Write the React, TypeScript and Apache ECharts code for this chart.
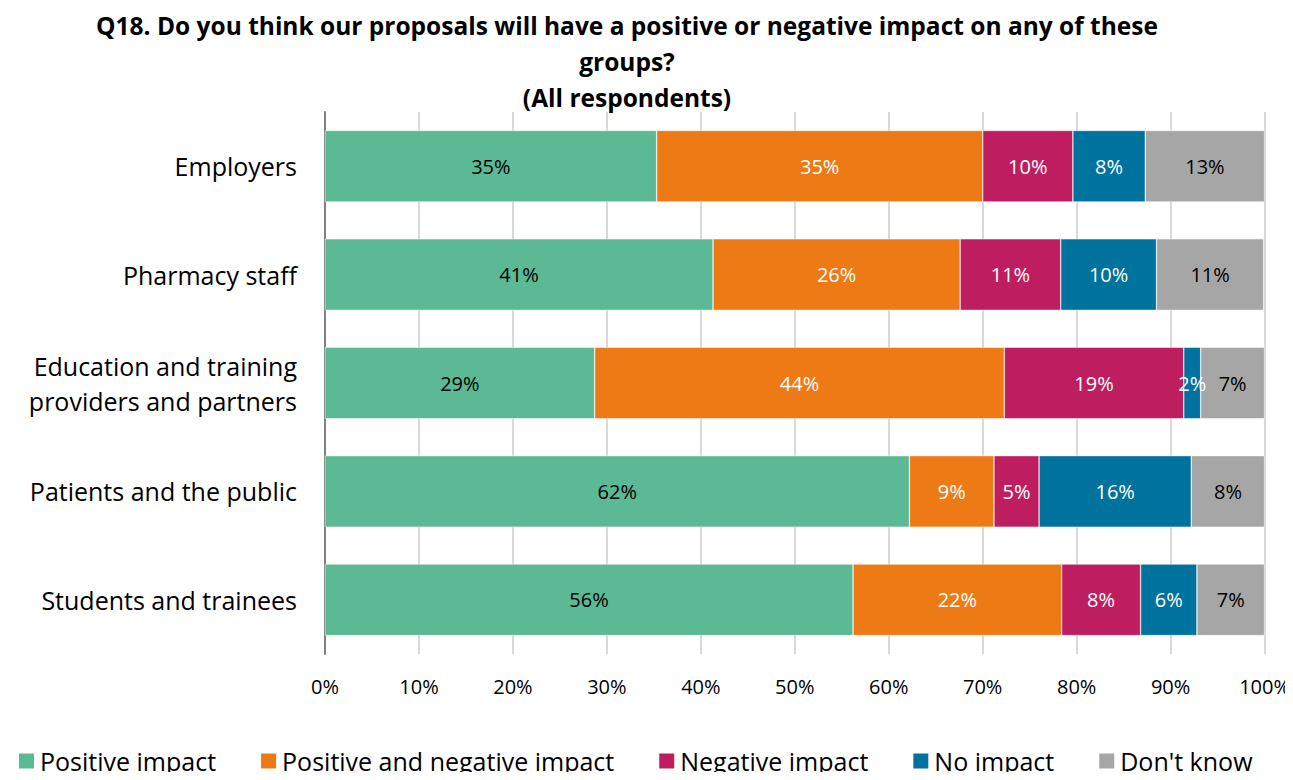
import React, { useEffect, useRef } from "react";
import * as echarts from "echarts";

const categories = [
  "Employers",
  "Pharmacy staff",
  "Education and training\nproviders and partners",
  "Patients and the public",
  "Students and trainees",
];
const seriesNames = [
  "Positive impact",
  "Positive and negative impact",
  "Negative impact",
  "No impact",
  "Don't know",
];
const positiveImpact = [35.3, 41.3, 28.7, 62.2, 56.2];
const positiveAndNegative = [34.7, 26.3, 43.6, 9.0, 22.2];
const negativeImpact = [9.6, 10.7, 19.1, 4.8, 8.4];
const noImpact = [7.7, 10.2, 1.8, 16.2, 6.0];
const dontKnow = [12.7, 11.4, 6.8, 7.8, 7.2];
const xTicks = [0, 10, 20, 30, 40, 50, 60, 70, 80, 90, 100];

const colors = ["#5BB995", "#EE7A16", "#BE1E60", "#00729E", "#A6A6A6"];
const labelColors = ["#000000", "#FFFFFF", "#FFFFFF", "#FFFFFF", "#000000"];

const FONT = "'Open Sans', sans-serif";

export default function App() {
  const ref = useRef<HTMLDivElement>(null);
  useEffect(() => {
    if (!ref.current) return;
    const chart = echarts.init(ref.current, null, { renderer: "svg" });
    const all = [positiveImpact, positiveAndNegative, negativeImpact, noImpact, dontKnow];
    chart.setOption({
      animation: false,
      textStyle: { fontFamily: FONT },
      title: {
        text: "Q18. Do you think our proposals will have a positive or negative impact on any of these\ngroups?\n(All respondents)",
        left: 622,
        top: 2,
        textAlign: "center",
        textStyle: {
          fontFamily: FONT,
          fontWeight: "bold",
          fontSize: 24.5,
          lineHeight: 36,
          color: "#000",
        },
      },
      legend: {
        top: 741,
        left: 12,
        itemGap: 43,
        itemWidth: 17,
        itemHeight: 17,
        icon: "rect",
        data: seriesNames,
        textStyle: { fontFamily: FONT, fontSize: 25, lineHeight: 30, color: "#000" },
      },
      grid: { left: 325, right: 28, top: 112, bottom: 126, containLabel: false },
      xAxis: {
        type: "value",
        min: 0,
        max: 100,
        interval: 10,
        axisLine: { show: false },
        axisTick: { show: false },
        splitLine: { show: true, lineStyle: { color: "#D9D9D9", width: 2 } },
        axisLabel: {
          formatter: (v: number) => (xTicks.includes(v) ? v + "%" : ""),
          fontSize: 20,
          color: "#000",
          margin: 22,
          fontFamily: FONT,
        },
      },
      yAxis: {
        type: "category",
        inverse: true,
        data: categories,
        axisLine: { show: true, lineStyle: { color: "#808080", width: 2 } },
        axisTick: { show: false },
        axisLabel: {
          fontSize: 25,
          color: "#000",
          margin: 28,
          lineHeight: 35,
          align: "right",
          fontFamily: FONT,
        },
      },
      series: seriesNames.map((name, i) => ({
        name,
        type: "bar",
        stack: "total",
        barWidth: "66%",
        data: all[i],
        itemStyle: { color: colors[i], borderColor: "#FFFFFF", borderWidth: 0.5 },
        label: {
          show: true,
          position: "inside",
          formatter: (p: any) => Math.round(p.value) + "%",
          color: labelColors[i],
          fontSize: 20,
          fontFamily: FONT,
        },
      })),
    });
    return () => chart.dispose();
  }, []);
  return <div ref={ref} style={{ width: 1293, height: 780, margin: -8 }} />;
}
